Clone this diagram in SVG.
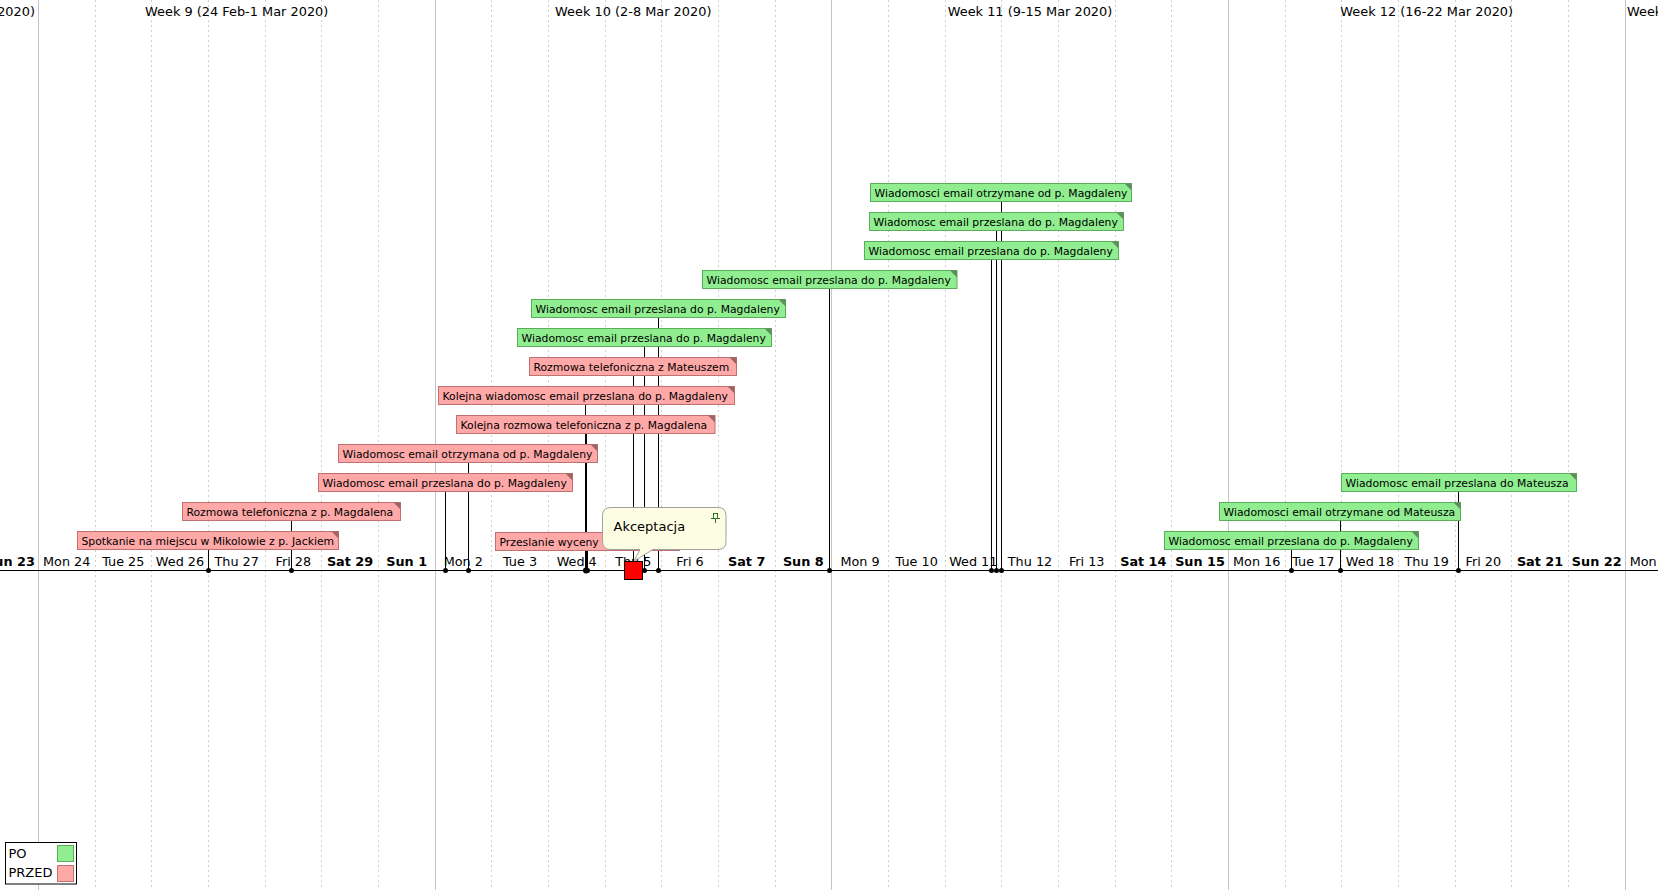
<svg xmlns="http://www.w3.org/2000/svg" width="1658" height="890" viewBox="0 0 1658 890">
<style>
text{font-family:"DejaVu Sans","Liberation Sans",sans-serif;fill:#000}
.wk{font-size:12.9px;text-anchor:middle}
.dy{font-size:12.8px;text-anchor:middle}
.we{font-weight:bold}
.gs{stroke:#c4c4c4;stroke-width:1}
.gd{stroke:#d0d0d0;stroke-width:1;stroke-dasharray:2,3}
.ln{stroke:#000;stroke-width:1;fill:none}
.dot{fill:#000}
.lb{font-size:10.8px}
.po rect{fill:#90ee90;stroke:#5aae5a;stroke-width:1}
.po path{fill:#5e8e5e}
.pz rect{fill:#ffa8a8;stroke:#c07070;stroke-width:1}
.pz path{fill:#a06464}
</style>
<rect width="1658" height="890" fill="#fff"/>
<g id="grid">
<line class="gs" x1="38.5" y1="0" x2="38.5" y2="890"/>
<line class="gs" x1="435.5" y1="0" x2="435.5" y2="890"/>
<line class="gs" x1="831.5" y1="0" x2="831.5" y2="890"/>
<line class="gs" x1="1228.5" y1="0" x2="1228.5" y2="890"/>
<line class="gs" x1="1625.5" y1="0" x2="1625.5" y2="890"/>
<line class="gd" x1="95.5" y1="0" x2="95.5" y2="890"/>
<line class="gd" x1="151.5" y1="0" x2="151.5" y2="890"/>
<line class="gd" x1="208.5" y1="0" x2="208.5" y2="890"/>
<line class="gd" x1="265.5" y1="0" x2="265.5" y2="890"/>
<line class="gd" x1="321.5" y1="0" x2="321.5" y2="890"/>
<line class="gd" x1="378.5" y1="0" x2="378.5" y2="890"/>
<line class="gd" x1="491.5" y1="0" x2="491.5" y2="890"/>
<line class="gd" x1="548.5" y1="0" x2="548.5" y2="890"/>
<line class="gd" x1="605.5" y1="0" x2="605.5" y2="890"/>
<line class="gd" x1="661.5" y1="0" x2="661.5" y2="890"/>
<line class="gd" x1="718.5" y1="0" x2="718.5" y2="890"/>
<line class="gd" x1="775.5" y1="0" x2="775.5" y2="890"/>
<line class="gd" x1="888.5" y1="0" x2="888.5" y2="890"/>
<line class="gd" x1="945.5" y1="0" x2="945.5" y2="890"/>
<line class="gd" x1="1001.5" y1="0" x2="1001.5" y2="890"/>
<line class="gd" x1="1058.5" y1="0" x2="1058.5" y2="890"/>
<line class="gd" x1="1115.5" y1="0" x2="1115.5" y2="890"/>
<line class="gd" x1="1171.5" y1="0" x2="1171.5" y2="890"/>
<line class="gd" x1="1285.5" y1="0" x2="1285.5" y2="890"/>
<line class="gd" x1="1341.5" y1="0" x2="1341.5" y2="890"/>
<line class="gd" x1="1398.5" y1="0" x2="1398.5" y2="890"/>
<line class="gd" x1="1455.5" y1="0" x2="1455.5" y2="890"/>
<line class="gd" x1="1511.5" y1="0" x2="1511.5" y2="890"/>
<line class="gd" x1="1568.5" y1="0" x2="1568.5" y2="890"/>
</g>
<g id="weeks">
<text class="wk" x="35" y="15.5" style="text-anchor:end">Week 8 (17-23 Feb 2020)</text>
<text class="wk" x="236.7" y="15.5">Week 9 (24 Feb-1 Mar 2020)</text>
<text class="wk" x="633.3" y="15.5">Week 10 (2-8 Mar 2020)</text>
<text class="wk" x="1030" y="15.5">Week 11 (9-15 Mar 2020)</text>
<text class="wk" x="1426.7" y="15.5">Week 12 (16-22 Mar 2020)</text>
<text class="wk" x="1627" y="15.5" style="text-anchor:start">Week 13 (23-29 Mar 2020)</text>
</g>
<g id="days">
<text class="dy we" x="10" y="566">Sun 23</text>
<text class="dy" x="66.7" y="566">Mon 24</text>
<text class="dy" x="123.3" y="566">Tue 25</text>
<text class="dy" x="180" y="566">Wed 26</text>
<text class="dy" x="236.7" y="566">Thu 27</text>
<text class="dy" x="293.3" y="566">Fri 28</text>
<text class="dy we" x="350" y="566">Sat 29</text>
<text class="dy we" x="406.7" y="566">Sun 1</text>
<text class="dy" x="463.3" y="566">Mon 2</text>
<text class="dy" x="520" y="566">Tue 3</text>
<text class="dy" x="576.7" y="566">Wed 4</text>
<text class="dy" x="633.3" y="566">Thu 5</text>
<text class="dy" x="690" y="566">Fri 6</text>
<text class="dy we" x="746.7" y="566">Sat 7</text>
<text class="dy we" x="803.3" y="566">Sun 8</text>
<text class="dy" x="860" y="566">Mon 9</text>
<text class="dy" x="916.7" y="566">Tue 10</text>
<text class="dy" x="973.3" y="566">Wed 11</text>
<text class="dy" x="1030" y="566">Thu 12</text>
<text class="dy" x="1086.7" y="566">Fri 13</text>
<text class="dy we" x="1143.3" y="566">Sat 14</text>
<text class="dy we" x="1200" y="566">Sun 15</text>
<text class="dy" x="1256.7" y="566">Mon 16</text>
<text class="dy" x="1313.3" y="566">Tue 17</text>
<text class="dy" x="1370" y="566">Wed 18</text>
<text class="dy" x="1426.7" y="566">Thu 19</text>
<text class="dy" x="1483.3" y="566">Fri 20</text>
<text class="dy we" x="1540" y="566">Sat 21</text>
<text class="dy we" x="1596.7" y="566">Sun 22</text>
<text class="dy" x="1653.3" y="566">Mon 23</text>
</g>
<g id="connectors">
<line class="ln" x1="0" y1="570.5" x2="1658" y2="570.5"/>
<line class="ln" x1="208.5" y1="549.5" x2="208.5" y2="570.5"/>
<line class="ln" x1="587.5" y1="550" x2="587.5" y2="570.5"/>
<line class="ln" x1="291.5" y1="520.5" x2="291.5" y2="570.5"/>
<line class="ln" x1="445.5" y1="491.5" x2="445.5" y2="570.5"/>
<line class="ln" x1="468.5" y1="462.5" x2="468.5" y2="570.5"/>
<line class="ln" x1="586.5" y1="433.5" x2="586.5" y2="570.5"/>
<line class="ln" x1="585.5" y1="404.5" x2="585.5" y2="570.5"/>
<line class="ln" x1="633.5" y1="375.5" x2="633.5" y2="562"/>
<line class="ln" x1="644.5" y1="346.5" x2="644.5" y2="570.5"/>
<line class="ln" x1="658.5" y1="317.5" x2="658.5" y2="570.5"/>
<line class="ln" x1="829.5" y1="288.5" x2="829.5" y2="570.5"/>
<line class="ln" x1="991.5" y1="259.5" x2="991.5" y2="570.5"/>
<line class="ln" x1="996.5" y1="230.5" x2="996.5" y2="570.5"/>
<line class="ln" x1="1001.5" y1="201.5" x2="1001.5" y2="570.5"/>
<line class="ln" x1="1291.5" y1="549.5" x2="1291.5" y2="570.5"/>
<line class="ln" x1="1340.5" y1="520.5" x2="1340.5" y2="570.5"/>
<line class="ln" x1="1458.5" y1="491.5" x2="1458.5" y2="570.5"/>
<circle class="dot" cx="208.5" cy="570.5" r="2.5"/>
<circle class="dot" cx="291.5" cy="570.5" r="2.5"/>
<circle class="dot" cx="445.5" cy="570.5" r="2.5"/>
<circle class="dot" cx="468.5" cy="570.5" r="2.5"/>
<circle class="dot" cx="586" cy="570.5" r="3"/>
<circle class="dot" cx="587.5" cy="570.5" r="2.5"/>
<circle class="dot" cx="644.5" cy="570.5" r="2.5"/>
<circle class="dot" cx="658.5" cy="570.5" r="2.5"/>
<circle class="dot" cx="829.5" cy="570.5" r="2.5"/>
<circle class="dot" cx="991.5" cy="570.5" r="2.5"/>
<circle class="dot" cx="996.5" cy="570.5" r="2.5"/>
<circle class="dot" cx="1001.5" cy="570.5" r="2.5"/>
<circle class="dot" cx="1291.5" cy="570.5" r="2.5"/>
<circle class="dot" cx="1340.5" cy="570.5" r="2.5"/>
<circle class="dot" cx="1458.5" cy="570.5" r="2.5"/>
</g>
<g id="t1" class="pz"><rect x="77.5" y="531.5" width="261" height="18"/><path d="M331.5,531.5H338.5V538.5Z"/><text class="lb" x="81.5" y="544.5">Spotkanie na miejscu w Mikolowie z p. Jackiem</text></g>
<g id="t2" class="pz"><rect x="495.5" y="532.5" width="184" height="18"/><path d="M672.5,532.5H679.5V539.5Z"/><text class="lb" x="499.5" y="545.5">Przeslanie wyceny</text></g>
<g id="t3" class="pz"><rect x="182.5" y="502.5" width="218" height="18"/><path d="M393.5,502.5H400.5V509.5Z"/><text class="lb" x="186.5" y="515.5">Rozmowa telefoniczna z p. Magdalena</text></g>
<g id="t4" class="pz"><rect x="318.5" y="473.5" width="254" height="18"/><path d="M565.5,473.5H572.5V480.5Z"/><text class="lb" x="322.5" y="486.5">Wiadomosc email przeslana do p. Magdaleny</text></g>
<g id="t5" class="pz"><rect x="338.5" y="444.5" width="259" height="18"/><path d="M590.5,444.5H597.5V451.5Z"/><text class="lb" x="342.5" y="457.5">Wiadomosc email otrzymana od p. Magdaleny</text></g>
<g id="t6" class="pz"><rect x="456.5" y="415.5" width="258.5" height="18"/><path d="M708,415.5H715V422.5Z"/><text class="lb" x="460.5" y="428.5">Kolejna rozmowa telefoniczna z p. Magdalena</text></g>
<g id="t7" class="pz"><rect x="438.5" y="386.5" width="296" height="18"/><path d="M727.5,386.5H734.5V393.5Z"/><text class="lb" x="442.5" y="399.5">Kolejna wiadomosc email przeslana do p. Magdaleny</text></g>
<g id="t8" class="pz"><rect x="529.5" y="357.5" width="207" height="18"/><path d="M729.5,357.5H736.5V364.5Z"/><text class="lb" x="533.5" y="370.5">Rozmowa telefoniczna z Mateuszem</text></g>
<g id="t9" class="po"><rect x="517.5" y="328.5" width="254" height="18"/><path d="M764.5,328.5H771.5V335.5Z"/><text class="lb" x="521.5" y="341.5">Wiadomosc email przeslana do p. Magdaleny</text></g>
<g id="t10" class="po"><rect x="531.5" y="299.5" width="254" height="18"/><path d="M778.5,299.5H785.5V306.5Z"/><text class="lb" x="535.5" y="312.5">Wiadomosc email przeslana do p. Magdaleny</text></g>
<g id="t11" class="po"><rect x="702.5" y="270.5" width="254.5" height="18"/><path d="M950,270.5H957V277.5Z"/><text class="lb" x="706.5" y="283.5">Wiadomosc email przeslana do p. Magdaleny</text></g>
<g id="t12" class="po"><rect x="864.5" y="241.5" width="254" height="18"/><path d="M1111.5,241.5H1118.5V248.5Z"/><text class="lb" x="868.5" y="254.5">Wiadomosc email przeslana do p. Magdaleny</text></g>
<g id="t13" class="po"><rect x="869.5" y="212.5" width="254" height="18"/><path d="M1116.5,212.5H1123.5V219.5Z"/><text class="lb" x="873.5" y="225.5">Wiadomosc email przeslana do p. Magdaleny</text></g>
<g id="t14" class="po"><rect x="870.5" y="183.5" width="261" height="18"/><path d="M1124.5,183.5H1131.5V190.5Z"/><text class="lb" x="874.5" y="196.5">Wiadomosci email otrzymane od p. Magdaleny</text></g>
<g id="t15" class="po"><rect x="1164.5" y="531.5" width="254" height="18"/><path d="M1411.5,531.5H1418.5V538.5Z"/><text class="lb" x="1168.5" y="544.5">Wiadomosc email przeslana do p. Magdaleny</text></g>
<g id="t16" class="po"><rect x="1219.5" y="502.5" width="241" height="18"/><path d="M1453.5,502.5H1460.5V509.5Z"/><text class="lb" x="1223.5" y="515.5">Wiadomosci email otrzymane od Mateusza</text></g>
<g id="t17" class="po"><rect x="1341.5" y="473.5" width="235" height="18"/><path d="M1569.5,473.5H1576.5V480.5Z"/><text class="lb" x="1345.5" y="486.5">Wiadomosc email przeslana do Mateusza</text></g>
<g id="milestone"><rect x="624.5" y="561.5" width="18" height="18" fill="#ff0000" stroke="#000" stroke-width="1"/></g>
<g id="note">
<path d="M610.5,507.5H718Q726,507.5 726,515.5V541.5Q726,549.5 718,549.5H653L634,561L640,549.5H610.5Q602.5,549.5 602.5,541.5V515.5Q602.5,507.5 610.5,507.5Z" fill="#fdfde4" stroke="#a0a0a0" stroke-width="1"/>
<g stroke="#2f6f2f" stroke-width="1" fill="none"><rect x="713.5" y="513.5" width="4" height="5"/><line x1="711" y1="518.5" x2="720" y2="518.5"/><line x1="715.5" y1="518.5" x2="715.5" y2="523"/></g>
<text x="613.5" y="531" style="font-size:13px">Akceptacja</text>
</g>
<g id="legend">
<rect x="5.5" y="842.5" width="71" height="41.5" fill="#fff" stroke="#000" stroke-width="1"/>
<text x="8.5" y="857.5" style="font-size:13px">PO</text>
<rect x="57.5" y="845.5" width="16" height="16" fill="#90ee90" stroke="#5aae5a"/>
<text x="8.5" y="876.5" style="font-size:13px">PRZED</text>
<rect x="57.5" y="865.5" width="16" height="16" fill="#ffa8a8" stroke="#c07070"/>
</g>
</svg>
